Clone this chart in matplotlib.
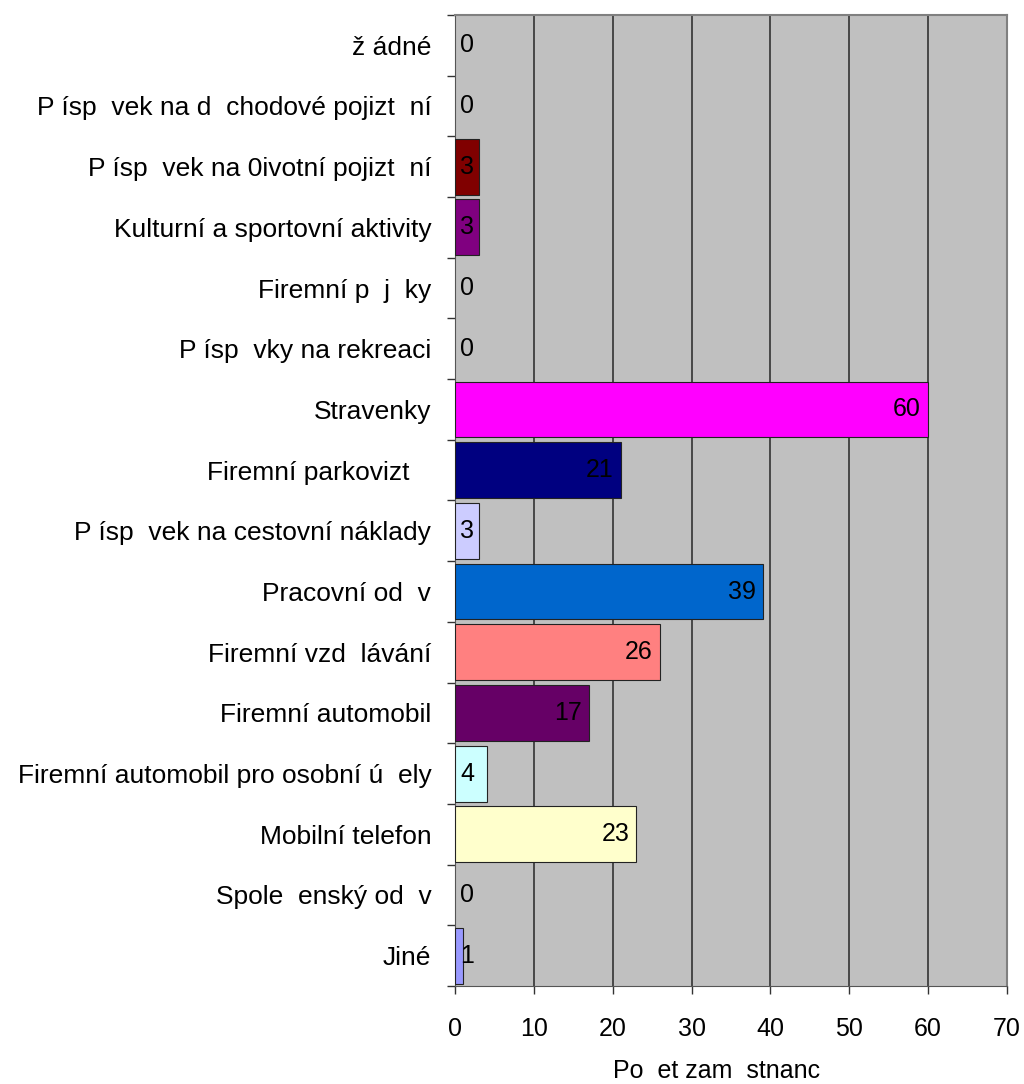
import matplotlib.pyplot as plt
import numpy as np

plt.rcParams['font.family'] = ['Liberation Sans', 'DejaVu Sans']

# Benefits (labels kept as they appear in the source, with lost characters)
categories = [
    "ž ádné",
    "P ísp  vek na d  chodové pojizt  ní",
    "P ísp  vek na 0ivotní pojizt  ní",
    "Kulturní a sportovní aktivity",
    "Firemní p  j  ky",
    "P ísp  vky na rekreaci",
    "Stravenky",
    "Firemní parkovizt   ",
    "P ísp  vek na cestovní náklady",
    "Pracovní od  v",
    "Firemní vzd  lávání",
    "Firemní automobil",
    "Firemní automobil pro osobní ú  ely",
    "Mobilní telefon",
    "Spole  enský od  v",
    "Jiné",
]
counts = [0, 0, 3, 3, 0, 0, 60, 21, 3, 39, 26, 17, 4, 23, 0, 1]
colors = ['#C0C0C0', '#C0C0C0', '#800000', '#800080', '#C0C0C0', '#C0C0C0',
          '#FF00FF', '#000080', '#CCCCFF', '#0066CC', '#FF8080', '#660066',
          '#CCFFFF', '#FFFFCC', '#C0C0C0', '#9999FF']
xticks = [0, 10, 20, 30, 40, 50, 60, 70]

fig = plt.figure(figsize=(10.24, 10.84), dpi=100)
ax = fig.add_axes([0.4443, 0.0904, 0.5391, 0.8958])
ax.set_facecolor('#C0C0C0')

y = np.arange(len(categories))
for yi, v, c in zip(y, counts, colors):
    if v > 0:
        ax.barh(yi, v, height=0.92, color=c, edgecolor='#222222', linewidth=0.8, zorder=3)
    if v < 5:
        ax.text(0.7, yi, str(v), ha='left', va='center', fontsize=18, color='black', zorder=4)
    else:
        ax.text(v - 0.9, yi, str(v), ha='right', va='center', fontsize=18, color='black', zorder=4)

ax.set_xlim(0, 70)
ax.set_ylim(len(categories) - 0.5, -0.5)
ax.set_xticks(xticks)
ax.set_xticklabels([str(t) for t in xticks], fontsize=18)

# category labels at centers, tick marks at band boundaries
ax.set_yticks(y)
ax.set_yticklabels(categories, fontsize=19)
ax.set_yticks(np.arange(len(categories) + 1) - 0.5, minor=True)
ax.tick_params(axis='y', which='major', length=0, pad=17)
ax.tick_params(axis='y', which='minor', length=6, width=1, color='#333333')
ax.tick_params(axis='x', length=6, width=1, color='#333333', pad=16)

ax.grid(axis='x', color='#333333', linewidth=1.2, zorder=1)
ax.set_axisbelow(True)

for side in ['top', 'right']:
    ax.spines[side].set_color('#808080')
    ax.spines[side].set_linewidth(1.5)
ax.spines['left'].set_color('#555555')
ax.spines['bottom'].set_color('#555555')

ax.set_xlabel("Po  et zam  stnanc    ", fontsize=18, labelpad=13)

plt.savefig('out.png', dpi=100)
